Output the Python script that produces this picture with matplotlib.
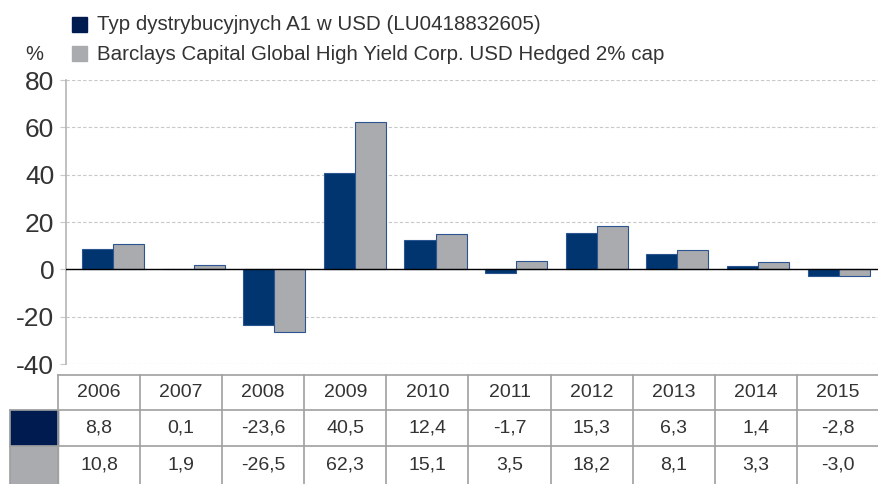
import matplotlib
matplotlib.use("Agg")
import matplotlib.pyplot as plt
import numpy as np
from matplotlib.patches import Rectangle

plt.rcParams['font.family'] = ['Liberation Sans', 'DejaVu Sans']

years = ['2006', '2007', '2008', '2009', '2010', '2011', '2012', '2013', '2014', '2015']
fund = [8.8, 0.1, -23.6, 40.5, 12.4, -1.7, 15.3, 6.3, 1.4, -2.8]
bench = [10.8, 1.9, -26.5, 62.3, 15.1, 3.5, 18.2, 8.1, 3.3, -3.0]
labels = ['Typ dystrybucyjnych A1 w USD (LU0418832605)',
          'Barclays Capital Global High Yield Corp. USD Hedged 2% cap']

navy = '#003570'
navy_dark = '#001b50'
grey = '#a9abae'
txt = '#333333'

W, H = 879, 484
fig = plt.figure(figsize=(W / 100, H / 100), dpi=100)

# main chart axes (pixel coords converted to figure fraction)
ax = fig.add_axes([66 / W, 1 - 364 / H, (879 - 66) / W, (364 - 80) / H])
x = np.arange(len(years))
w = 0.385
ax.bar(x - w / 2, fund, w, color=navy, edgecolor='#2a5590', linewidth=0.8, zorder=3)
ax.bar(x + w / 2, bench, w, color=grey, edgecolor='#2a5590', linewidth=0.8, zorder=3)
ax.axhline(0, color='black', linewidth=1, zorder=4)
ax.set_ylim(-40, 80)
ax.set_xlim(-0.583, 9.50)
ax.set_yticks(range(-40, 81, 20))
ax.set_yticklabels([str(v) for v in range(-40, 81, 20)], fontsize=19, color=txt)
ax.grid(axis='y', color='#c8c8c8', linestyle=(0, (3, 2)), linewidth=0.8, zorder=0)
ax.set_xticks([])
for s in ['top', 'right', 'bottom']:
    ax.spines[s].set_visible(False)
ax.spines['left'].set_color('#b5b5b5')
ax.spines['left'].set_linewidth(1.2)
ax.tick_params(axis='y', length=4, color='#c8c8c8', pad=4.5)

# legend and unit
for i, lab in enumerate(labels):
    yy = 1 - (24 + 30 * i) / H
    fig.patches.append(Rectangle((72 / W, yy - 7.5 / H), 15 / W, 15 / H,
                                 color=[navy_dark, grey][i], transform=fig.transFigure))
    fig.text(97 / W, yy, lab, fontsize=14.8, color=txt, va='center')
fig.text(25 / W, 1 - 55 / H, '%', fontsize=14.5, color=txt, va='center')

# data table below the chart
tab = fig.add_axes([0, 0, 1, 1])
tab.set_xlim(0, W)
tab.set_ylim(H, 0)
tab.axis('off')
col0, col_w = 58, (879 - 58) / len(years)
rows = [375, 410, 446, 484]
line = '#a0a0a0'
tab.add_patch(Rectangle((10, rows[1]), col0 - 10, rows[2] - rows[1], color=navy_dark))
tab.add_patch(Rectangle((10, rows[2]), col0 - 10, rows[3] - rows[2], color=grey))
for r in rows[:3]:
    x0 = col0 if r == rows[0] else 10
    tab.plot([x0, W], [r, r], color=line, lw=1.2)
for i in range(len(years) + 1):
    xx = col0 + i * col_w
    tab.plot([xx, xx], [rows[0], rows[3]], color=line, lw=1.2)
tab.plot([10, 10], [rows[1], rows[3]], color=line, lw=1.2)
for i in range(len(years)):
    cx = col0 + (i + 0.5) * col_w
    tab.text(cx, (rows[0] + rows[1]) / 2, years[i], ha='center', va='center', fontsize=14, color=txt)
    tab.text(cx, (rows[1] + rows[2]) / 2, f'{fund[i]:.1f}'.replace('.', ','),
             ha='center', va='center', fontsize=14, color=txt)
    tab.text(cx, (rows[2] + rows[3]) / 2, f'{bench[i]:.1f}'.replace('.', ','),
             ha='center', va='center', fontsize=14, color=txt)

fig.savefig('out.png', dpi=100)
